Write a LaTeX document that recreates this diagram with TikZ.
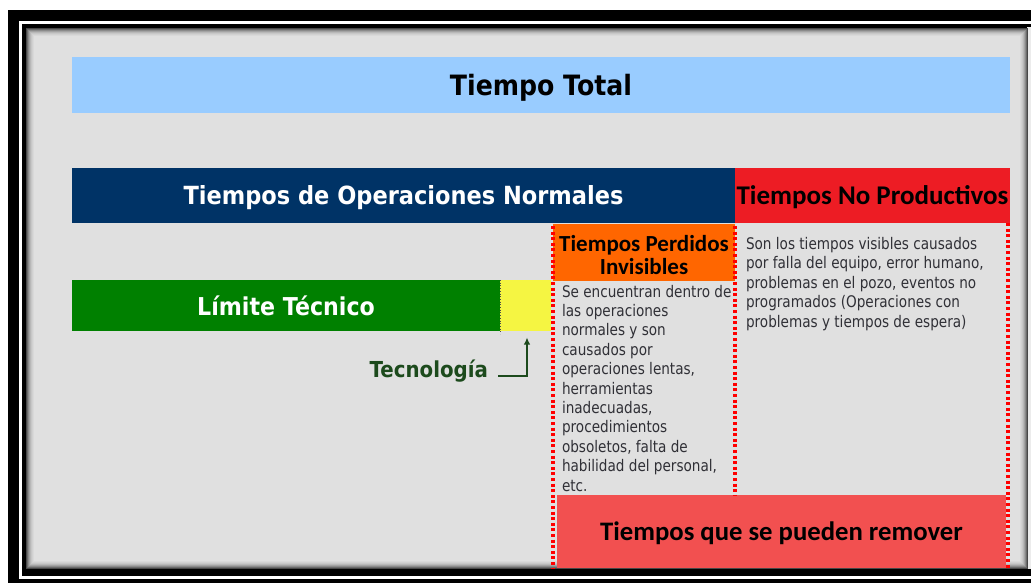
\documentclass[tikz,border=0pt]{standalone}
\usepackage{fontspec}
\usetikzlibrary{arrows.meta}
\newfontfamily\tahR[FakeStretch=0.85]{DejaVu Sans}
\newfontfamily\tahX[FakeStretch=0.9]{DejaVu Sans}
\newfontfamily\carlito{Carlito}
\definecolor{ltblue}{HTML}{99CCFF}
\definecolor{navy}{HTML}{003366}
\definecolor{npred}{HTML}{ED1C24}
\definecolor{limgreen}{HTML}{008000}
\definecolor{tecyellow}{HTML}{F5F542}
\definecolor{pdorange}{HTML}{FF6600}
\definecolor{remred}{HTML}{F25050}
\definecolor{panelgray}{HTML}{E0E0E0}
\definecolor{bodytext}{HTML}{303036}
\definecolor{tecgreen}{HTML}{1C4A1C}
\tikzset{
  box/.style={rectangle, inner sep=0pt, outer sep=0pt, anchor=north west},
  tahbold/.style={font=\tahX\bfseries\fontsize{#1}{#1}\selectfont, text depth=0pt},
  calbold/.style={font=\carlito\bfseries\fontsize{#1}{#1}\selectfont, text depth=0pt},
  body/.style={inner sep=0pt, outer sep=0pt, align=left, text=bodytext,
    font=\tahR\fontsize{16}{19.4}\selectfont},
  reddots/.style={draw=red, line width=3.5pt, dash pattern=on 3pt off 2.6pt},
  tecarrow/.style={draw=tecgreen, line width=2.2pt, -{Latex[length=7pt,width=6.5pt]}},
}
\begin{document}
\begin{tikzpicture}[x=1pt,y=-1pt]
\useasboundingbox (0,0) rectangle (1031,586);
% frame
\fill[white] (0,0) rectangle (1031,586);
\fill[black] (8,10) rectangle (1031,583);
\fill[white] (19,21) rectangle (1031,579);
\fill[black] (22,24) rectangle (1031,576);
\fill[panelgray!60!white] (1027,27) rectangle (1031,569);
\fill[panelgray] (26,28) rectangle (1028,569);
\foreach \i/\c in {0/72,1/58,2/46,3/36,4/28,5/22,6/18,7/15}
  \draw[line width=1pt, black!\c] (26.5+\i,28.5+\i) rectangle (1027.5-\i,568.5-\i);

% boxes
\node[box, fill=ltblue, minimum width=938pt, minimum height=56pt, tahbold=28] (total) at (72,57) {Tiempo Total};
\node[box, fill=navy, text=white, minimum width=663pt, minimum height=55pt, tahbold=25] (normal) at (72,168) {Tiempos de Operaciones Normales};
\node[box, fill=npred, minimum width=275pt, minimum height=55pt, calbold=27] (noprod) at (735,168) {Tiempos No Productivos};
\node[box, fill=limgreen, text=white, minimum width=428pt, minimum height=51pt, tahbold=24.6] (limite) at (72,280) {Límite Técnico};
\node[box, fill=tecyellow, minimum width=51pt, minimum height=51pt] (tecbox) at (500,280) {};
\node[box, fill=pdorange, minimum width=182pt, minimum height=57pt, align=center, font=\carlito\bfseries\fontsize{23}{23}\selectfont] (perdidos) at (553,224) {\rule{0pt}{22pt}Tiempos Perdidos\\Invisibles};
\node[box, fill=remred, minimum width=449pt, minimum height=73pt, calbold=26.7] (remover) at (557,495) {Tiempos que se pueden remover};

% texts
\node[body, anchor=base west] (t1) at (562,491) {Se encuentran dentro de\\las operaciones\\normales y son\\causados por\\operaciones lentas,\\herramientas\\inadecuadas,\\procedimientos\\obsoletos, falta de\\habilidad del personal,\\etc.};
\node[body, anchor=base west] (t2) at (746,327) {Son los tiempos visibles causados\\por falla del equipo, error humano,\\problemas en el pozo, eventos no\\programados (Operaciones con\\problemas y tiempos de espera)};

\node[inner sep=0pt, outer sep=0pt, anchor=base east, text=tecgreen, tahbold=22] (tec) at (488,377) {Tecnología};
\draw[tecarrow, shorten >=6.5pt] ([xshift=10pt,yshift=1pt]tec.base east) -| ([xshift=1.5pt]tecbox.south);

% separators
\draw[black!70, line width=0.7pt, dotted] (tecbox.north west) -- ([yshift=-3pt]tecbox.south west);
\draw[reddots] ([yshift=-2pt]perdidos.north west) -- (perdidos.north west |- remover.south);
\draw[reddots] ([yshift=-2pt]perdidos.north east) -- (perdidos.north east |- remover.north);
\draw[reddots] ([xshift=-2pt]noprod.south east) -- ([xshift=-2pt]noprod.south east |- remover.south);
\end{tikzpicture}
\end{document}
